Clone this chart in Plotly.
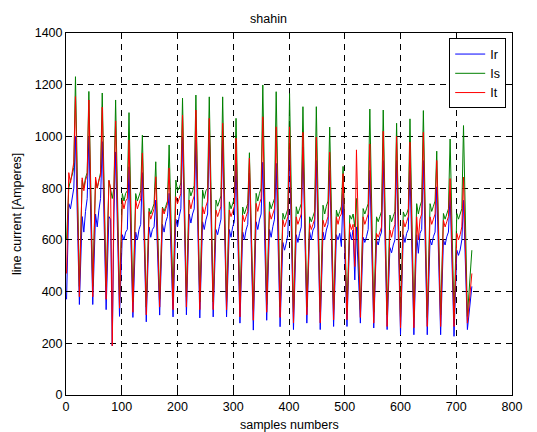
import plotly.graph_objects as go

# Daily cycles: each row = [trough, shoulderA, dip, shoulderB, pre-peak, peak]
# offsets (samples) of those points relative to the cycle's trough
offsets = [0, 5, 8, 11, 14, 17]
first_sample = 1
tail_samples = [720, 728]

Ir = [
    [370, 740, 720, 760, 800, 1000],
    [350, 690, 630, 710, 760, 1000],
    [350, 700, 650, 715, 760, 980],
    [330, 690, 680, 190, 700, 940],
    [304, 620, 600, 630, 640, 883],
    [300, 630, 600, 640, 660, 860],
    [283, 650, 610, 640, 650, 754],
    [309, 660, 630, 670, 690, 780],
    [302, 680, 650, 690, 720, 999],
    [310, 700, 665, 700, 720, 986],
    [298, 670, 640, 677, 700, 1018],
    [302, 640, 620, 651, 680, 986],
    [302, 640, 610, 651, 670, 896],
    [278, 630, 600, 638, 660, 858],
    [251, 670, 640, 677, 700, 900],
    [289, 640, 610, 651, 680, 896],
    [264, 590, 560, 587, 620, 950],
    [253, 620, 590, 625, 650, 959],
    [278, 630, 600, 638, 650, 907],
    [253, 630, 600, 638, 660, 869],
    [265, 620, 600, 625, 574, 779],
    [265, 630, 600, 638, 445, 650],
    [278, 610, 590, 612, 640, 869],
    [259, 600, 580, 612, 630, 907],
    [253, 570, 550, 580, 600, 907],
    [233, 620, 590, 625, 640, 869],
    [233, 620, 548, 625, 640, 907],
    [233, 600, 580, 612, 630, 805],
    [233, 600, 580, 612, 630, 779],
    [227, 560, 540, 561, 600, 753],
]
Ir_tail = [253, 420]

Is = [
    [600, 800, 830, 850, 880, 1231],
    [420, 830, 800, 840, 860, 1174],
    [420, 830, 800, 830, 860, 1168],
    [420, 830, 800, 760, 800, 1141],
    [380, 779, 750, 780, 790, 1092],
    [360, 779, 750, 770, 790, 1005],
    [340, 722, 700, 720, 740, 902],
    [370, 727, 710, 730, 750, 967],
    [380, 831, 790, 800, 820, 1148],
    [380, 800, 770, 790, 810, 1160],
    [360, 793, 760, 790, 800, 1153],
    [360, 754, 730, 750, 770, 1153],
    [360, 747, 720, 740, 760, 1070],
    [360, 727, 700, 720, 740, 937],
    [330, 780, 750, 780, 800, 1199],
    [350, 747, 720, 740, 760, 1173],
    [340, 703, 680, 700, 720, 1166],
    [320, 728, 700, 720, 740, 1115],
    [340, 689, 670, 690, 710, 1115],
    [320, 734, 700, 730, 750, 1036],
    [330, 715, 690, 710, 730, 884],
    [330, 695, 680, 700, 650, 760],
    [330, 721, 700, 720, 740, 1106],
    [320, 689, 670, 690, 710, 1102],
    [310, 696, 670, 690, 710, 1051],
    [300, 708, 690, 700, 720, 1068],
    [300, 740, 700, 730, 750, 1100],
    [300, 740, 710, 730, 750, 943],
    [310, 702, 680, 700, 720, 990],
    [300, 702, 680, 700, 720, 1042],
]
Is_tail = [304, 560]

It = [
    [470, 860, 820, 870, 900, 1154],
    [380, 840, 790, 830, 850, 1141],
    [380, 843, 800, 830, 850, 1113],
    [370, 830, 800, 190, 800, 1060],
    [336, 753, 720, 750, 760, 986],
    [320, 753, 720, 740, 760, 936],
    [310, 709, 680, 700, 720, 844],
    [340, 723, 700, 720, 740, 878],
    [330, 767, 740, 760, 780, 1083],
    [340, 754, 720, 750, 770, 1102],
    [330, 728, 700, 730, 750, 1070],
    [330, 715, 690, 710, 730, 1051],
    [330, 715, 690, 710, 730, 993],
    [302, 696, 670, 690, 710, 916],
    [289, 741, 710, 740, 760, 1076],
    [320, 709, 680, 700, 720, 1037],
    [300, 677, 650, 670, 690, 1037],
    [279, 689, 660, 680, 700, 1016],
    [310, 663, 640, 660, 680, 997],
    [279, 676, 650, 670, 690, 939],
    [291, 689, 660, 690, 700, 856],
    [291, 663, 640, 660, 497, 948],
    [300, 689, 660, 680, 700, 971],
    [278, 625, 610, 630, 650, 1020],
    [265, 638, 610, 640, 660, 1000],
    [259, 676, 650, 670, 690, 978],
    [260, 689, 600, 680, 700, 1016],
    [265, 689, 660, 680, 700, 907],
    [265, 676, 650, 670, 690, 837],
    [265, 625, 600, 620, 650, 843],
]
It_tail = [278, 470]

x_ticks = [0, 100, 200, 300, 400, 500, 600, 700, 800]
y_ticks = [0, 200, 400, 600, 800, 1000, 1200, 1400]


def build_x(n_cycles):
    xs = []
    for k in range(n_cycles):
        for o in offsets:
            xs.append(max(24 * k + o, first_sample))
    return xs + tail_samples


def flatten(rows, tail):
    return [v for r in rows for v in r] + tail


xs = build_x(len(Ir))
fig = go.Figure()
for name, rows, tail, color in [("Ir", Ir, Ir_tail, "#0000ff"),
                                ("Is", Is, Is_tail, "#008000"),
                                ("It", It, It_tail, "#ff0000")]:
    fig.add_trace(go.Scatter(x=xs, y=flatten(rows, tail), mode="lines", name=name,
                             line=dict(color=color, width=1)))

FAM = "Liberation Sans, Arial, sans-serif"
font = dict(family=FAM, size=12.5, color="black")
axis_common = dict(showline=True, linecolor="black", linewidth=1, mirror="ticks",
                   ticks="inside", ticklen=5, tickcolor="black",
                   showgrid=True, gridcolor="black", gridwidth=0.6, griddash="6px,5px",
                   zeroline=False, tickfont=font, automargin=False)
fig.update_layout(
    width=537, height=432,
    margin=dict(l=66, r=25, t=33, b=37),
    paper_bgcolor="white", plot_bgcolor="white",
    font=font,
    title=dict(text="shahin", x=0.5, xanchor="center", y=1 - 19 / 432, yref="container",
               yanchor="middle", font=dict(family=FAM, size=12.5, color="black")),
    xaxis=dict(range=[0, 800], tickvals=x_ticks, **axis_common),
    yaxis=dict(range=[0, 1400], tickvals=y_ticks, **axis_common),
    legend=dict(x=0.987, y=0.985, xanchor="right", yanchor="top", bgcolor="white",
                bordercolor="black", borderwidth=1, font=font,
                tracegroupgap=0, itemwidth=30),
    showlegend=True,
    annotations=[
        dict(text="samples numbers", xref="paper", yref="paper", x=0.5, y=-0.083,
             xanchor="center", yanchor="middle", showarrow=False, font=font),
        dict(text="line current [Amperes]", xref="paper", yref="paper", x=-0.11, y=0.5,
             textangle=-90, xanchor="center", yanchor="middle", showarrow=False, font=font),
    ],
)
fig.write_html("out.html")
